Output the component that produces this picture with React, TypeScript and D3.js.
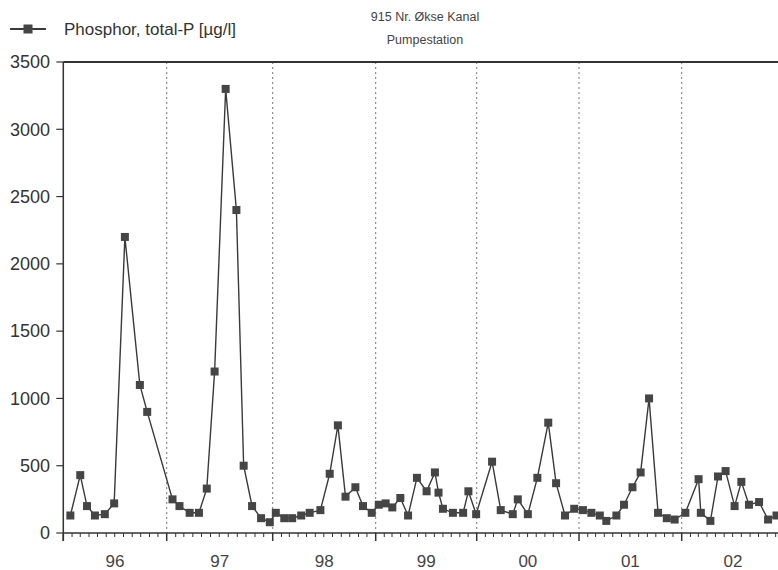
import React from "react";
import * as d3 from "d3";

const titleLines = ["915 Nr. Økse Kanal", "Pumpestation"];
const seriesName = "Phosphor, total-P [µg/l]";

const dates: string[] = [
  "1996-01-26", "1996-03-01", "1996-03-25", "1996-04-22", "1996-05-27", "1996-06-29", "1996-08-06", "1996-09-28", "1996-10-24",
  "1997-01-21", "1997-02-14", "1997-03-21", "1997-04-22", "1997-05-19", "1997-06-15", "1997-07-23", "1997-08-29", "1997-09-23", "1997-10-22", "1997-11-22", "1997-12-22",
  "1998-01-12", "1998-02-11", "1998-03-11", "1998-04-12", "1998-05-12", "1998-06-19", "1998-07-22", "1998-08-20", "1998-09-16", "1998-10-21", "1998-11-17", "1998-12-18",
  "1999-01-12", "1999-02-06", "1999-03-02", "1999-03-31", "1999-04-28", "1999-05-30", "1999-07-04", "1999-08-03", "1999-08-16", "1999-09-01", "1999-10-07", "1999-11-13", "1999-12-02", "1999-12-30",
  "2000-02-25", "2000-03-27", "2000-05-09", "2000-05-27", "2000-07-02", "2000-08-05", "2000-09-13", "2000-10-11", "2000-11-12", "2000-12-15",
  "2001-01-15", "2001-02-14", "2001-03-16", "2001-04-08", "2001-05-14", "2001-06-10", "2001-07-10", "2001-08-08", "2001-09-07", "2001-10-09", "2001-11-09", "2001-12-07",
  "2002-01-14", "2002-03-02", "2002-03-10", "2002-04-13", "2002-05-10", "2002-06-06", "2002-07-08", "2002-08-01", "2002-08-28", "2002-10-03", "2002-11-04", "2002-12-04",
];

const values: number[] = [
  130, 430, 200, 130, 140, 220, 2200, 1100, 900,
  250, 200, 150, 150, 330, 1200, 3300, 2400, 500, 200, 110, 80,
  150, 110, 110, 130, 150, 170, 440, 800, 270, 340, 200, 150,
  210, 220, 190, 260, 130, 410, 310, 450, 300, 180, 150, 150, 310, 140,
  530, 170, 140, 250, 140, 410, 820, 370, 130, 180,
  170, 150, 130, 90, 130, 210, 340, 450, 1000, 150, 110, 100,
  150, 400, 150, 90, 420, 460, 200, 380, 210, 230, 100, 130,
];

const yTicks = [0, 500, 1000, 1500, 2000, 2500, 3000, 3500];
const yearLabels = ["96", "97", "98", "99", "00", "01", "02"];

const W = 778;
const H = 570;
const top = 62;
const bottom = 533;
// pixel positions of the year boundaries 1996..2003 (the scanned axis is slightly uneven)
const yearPx = [63.3, 166.7, 272.7, 375.7, 476.7, 579, 681.7, 784.4];

export default function App() {
  const parse = d3.timeParse("%Y-%m-%d");
  const data = dates.map((d, i) => ({ date: parse(d) as Date, value: values[i] }));

  const yearStarts = d3.timeYear.range(new Date(1996, 0, 1), new Date(2003, 0, 2));
  const x = d3.scaleTime().domain(yearStarts).range(yearPx);
  const y = d3.scaleLinear().domain([0, 3500]).range([bottom, top]);
  const left = x(yearStarts[0]);

  const months = d3.timeMonth.range(new Date(1996, 0, 1), new Date(2003, 0, 1));

  const line = d3
    .line<{ date: Date; value: number }>()
    .x((d) => x(d.date))
    .y((d) => y(d.value));

  const ink = "#3a3a3a";
  const font = "'Liberation Sans', Arial, sans-serif";

  return (
    <svg
      width={W}
      height={H}
      style={{ position: "absolute", left: 0, top: 0, background: "#fff" }}
      fontFamily={font}
    >
      <rect x={0} y={0} width={W} height={H} fill="#fff" />
      {/* title */}
      <text x={425} y={21} fontSize={12.5} textAnchor="middle" fill="#444">
        {titleLines[0]}
      </text>
      <text x={425} y={44} fontSize={12.5} textAnchor="middle" fill="#444">
        {titleLines[1]}
      </text>
      {/* legend */}
      <line x1={10} x2={46} y1={29} y2={29} stroke={ink} strokeWidth={1.8} />
      <rect x={23.5} y={24.5} width={9} height={9} fill="#454545" />
      <text x={64} y={35} fontSize={17} fill="#333">
        {seriesName}
      </text>

      {/* year dotted lines */}
      {yearStarts.slice(1).map((d, i) => (
        <line
          key={"g" + i}
          x1={x(d)}
          x2={x(d)}
          y1={top}
          y2={bottom}
          stroke="#777"
          strokeWidth={1}
          strokeDasharray="2,3"
        />
      ))}

      {/* frame top */}
      <line x1={left} x2={W} y1={top} y2={top} stroke="#333" strokeWidth={1.8} />
      {/* y axis */}
      <line x1={left} x2={left} y1={top} y2={bottom + 8} stroke="#333" strokeWidth={1.5} />
      {yTicks.map((t) => (
        <g key={"y" + t}>
          <line x1={left - 7} x2={left} y1={y(t)} y2={y(t)} stroke="#333" strokeWidth={1.2} />
          <text x={50} y={y(t)} dy="0.35em" fontSize={18} textAnchor="end" fill="#333">
            {t}
          </text>
        </g>
      ))}
      {/* x axis */}
      <line x1={left} x2={W} y1={bottom} y2={bottom} stroke="#333" strokeWidth={1.5} />
      {months.map((m, i) => (
        <line
          key={"m" + i}
          x1={x(m)}
          x2={x(m)}
          y1={bottom}
          y2={bottom + (m.getMonth() === 0 ? 8 : 4)}
          stroke="#333"
          strokeWidth={m.getMonth() === 0 ? 1.5 : 1}
        />
      ))}
      {yearStarts.slice(0, yearLabels.length).map((d, i) => {
        const mid = (x(d) + x(d3.timeYear.offset(d, 1))) / 2;
        return (
          <text key={"xl" + i} x={mid} y={567} fontSize={17} textAnchor="middle" fill="#444">
            {yearLabels[i]}
          </text>
        );
      })}

      {/* series */}
      <path d={line(data) || ""} fill="none" stroke={ink} strokeWidth={1.4} />
      {data.map((d, i) => (
        <rect
          key={"p" + i}
          x={x(d.date) - 4}
          y={y(d.value) - 4}
          width={8}
          height={8}
          fill="#454545"
        />
      ))}
    </svg>
  );
}
